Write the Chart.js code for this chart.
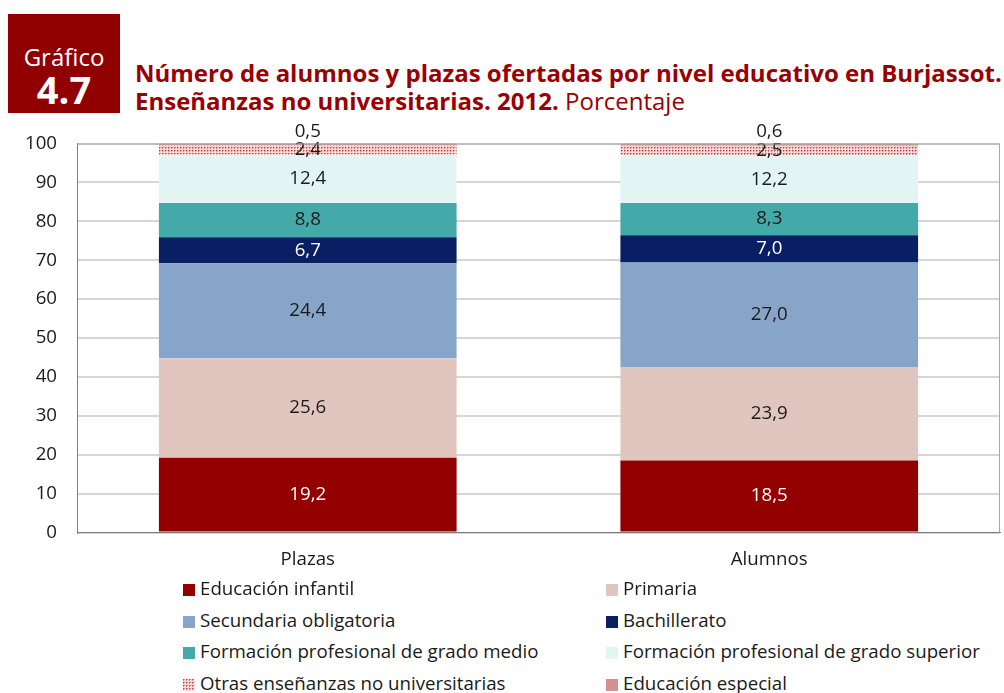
<!DOCTYPE html>
<html lang="es">
<head>
  <meta charset="UTF-8">
  <title>Gráfico 4.7 - Alumnos y plazas por nivel educativo</title>
  <script src="https://cdn.jsdelivr.net/npm/chart.js"></script>
  <style>
    body {
      margin: 0;
      width: 1004px;
      height: 693px;
      background: #ffffff;
      font-family: "Open Sans", sans-serif;
      position: relative;
      overflow: hidden;
    }
    #etiqueta {
      position: absolute;
      left: 8px;
      top: 14px;
      width: 112px;
      height: 99px;
      background: #900000;
      color: #ffffff;
      text-align: center;
    }
    #etiqueta .g {
      position: absolute;
      top: 29px;
      width: 100%;
      font-size: 24px;
      line-height: 28px;
    }
    #etiqueta .n {
      position: absolute;
      top: 54px;
      width: 100%;
      font-size: 38px;
      font-weight: bold;
      line-height: 42px;
    }
    #titulo {
      position: absolute;
      left: 135px;
      top: 59px;
      color: #990000;
      font-size: 24px;
      line-height: 28px;
      font-weight: bold;
      white-space: nowrap;
    }
    #titulo span { font-weight: normal; }
    #grafico {
      position: absolute;
      left: 0;
      top: 120px;
    }
    #leyenda {
      position: absolute;
      left: 0;
      top: 0;
    }
    .item {
      position: absolute;
      font-size: 18.7px;
      line-height: 22px;
      color: #1a1a1a;
      white-space: nowrap;
    }
    .item i {
      display: inline-block;
      width: 12px;
      height: 12px;
      margin-right: 5px;
      vertical-align: -1px;
    }
  </style>
</head>
<body>

<div id="etiqueta"><div class="g">Gráfico</div><div class="n">4.7</div></div>
<div id="titulo">Número de alumnos y plazas ofertadas por nivel educativo en Burjassot.<br>Enseñanzas no universitarias. 2012. <span>Porcentaje</span></div>

<canvas id="grafico" width="1004" height="471"></canvas>
<div id="leyenda"></div>

<script>
// categorías del eje X
const categorias = ['Plazas', 'Alumnos'];

// porcentajes por nivel educativo (Plazas, Alumnos)
const infantil = [19.2, 18.5];
const primaria = [25.6, 23.9];
const secundaria = [24.4, 27.0];
const bachillerato = [6.7, 7.0];
const fpMedio = [8.8, 8.3];
const fpSuperior = [12.4, 12.2];
const otras = [2.4, 2.5];
const especial = [0.5, 0.6];

const ticksY = [0, 10, 20, 30, 40, 50, 60, 70, 80, 90, 100];

// trama punteada para "Otras enseñanzas"
function crearTrama() {
  const c = document.createElement('canvas');
  c.width = 3; c.height = 3;
  const x = c.getContext('2d');
  x.fillStyle = '#f6dada';
  x.fillRect(0, 0, 3, 3);
  x.fillStyle = '#c83c3c';
  x.fillRect(0, 0, 1, 1);
  x.fillStyle = '#e08a8a';
  x.fillRect(1, 0, 1, 1);
  x.fillRect(0, 1, 1, 1);
  return c;
}
const tramaCanvas = crearTrama();
const trama = document.getElementById('grafico').getContext('2d').createPattern(tramaCanvas, 'repeat');

const series = [
  { label: 'Educación infantil', data: infantil, color: '#930000', texto: '#ffffff' },
  { label: 'Primaria', data: primaria, color: '#e0c6be', texto: '#1a1a1a' },
  { label: 'Secundaria obligatoria', data: secundaria, color: '#87a5c8', texto: '#1a1a1a' },
  { label: 'Bachillerato', data: bachillerato, color: '#0a1f63', texto: '#ffffff' },
  { label: 'Formación profesional de grado medio', data: fpMedio, color: '#44aaa9', texto: '#1a1a1a' },
  { label: 'Formación profesional de grado superior', data: fpSuperior, color: '#e3f4f4', texto: '#1a1a1a' },
  { label: 'Otras enseñanzas no universitarias', data: otras, color: trama, texto: '#1a1a1a' },
  { label: 'Educación especial', data: especial, color: '#d49090', texto: '#1a1a1a', fuera: true }
];

const fmt = v => v.toFixed(1).replace('.', ',');

// valores sobre cada tramo de la barra
const etiquetas = {
  id: 'etiquetas',
  afterDatasetsDraw(chart) {
    const ctx = chart.ctx;
    ctx.save();
    ctx.font = '18.7px "Open Sans"';
    ctx.textAlign = 'center';
    ctx.textBaseline = 'middle';
    chart.data.datasets.forEach((ds, i) => {
      const meta = chart.getDatasetMeta(i);
      meta.data.forEach((bar, j) => {
        const p = bar.getProps(['x', 'y', 'base'], true);
        const y = series[i].fuera ? p.y - 12 : (p.y + p.base) / 2;
        ctx.fillStyle = series[i].texto;
        ctx.fillText(fmt(ds.data[j]), p.x, y);
      });
    });
    ctx.restore();
  }
};

// marco gris alrededor del área del gráfico
const marco = {
  id: 'marco',
  afterDatasetsDraw(chart) {
    const a = chart.chartArea;
    const ctx = chart.ctx;
    ctx.save();
    ctx.strokeStyle = '#a8a8a8';
    ctx.lineWidth = 1;
    ctx.beginPath();
    ctx.moveTo(a.left, a.top + 0.5);
    ctx.lineTo(a.right - 0.5, a.top + 0.5);
    ctx.lineTo(a.right - 0.5, a.bottom);
    ctx.stroke();
    ctx.restore();
  }
};

new Chart(document.getElementById('grafico'), {
  type: 'bar',
  data: {
    labels: categorias,
    datasets: series.map(s => ({
      label: s.label,
      data: s.data,
      backgroundColor: s.color,
      borderWidth: 0,
      barPercentage: 0.645,
      categoryPercentage: 1
    }))
  },
  options: {
    responsive: false,
    animation: false,
    layout: { padding: { top: 23.5, right: 4, bottom: 12, left: 0 } },
    plugins: {
      legend: { display: false },
      tooltip: { enabled: false }
    },
    scales: {
      x: {
        stacked: true,
        grid: { display: false },
        border: { color: '#7a7a7a', width: 1 },
        ticks: { color: '#1a1a1a', font: { family: 'Open Sans', size: 18.7 }, padding: 8 }
      },
      y: {
        stacked: true,
        min: 0,
        max: 100,
        afterFit(scale) { scale.width = 77; },
        afterBuildTicks(scale) { scale.ticks = ticksY.map(v => ({ value: v })); },
        grid: { color: '#d6d6d6', lineWidth: 2, drawTicks: true, tickLength: 20, tickColor: 'rgba(0,0,0,0)' },
        border: { color: '#808080', width: 1 },
        ticks: { color: '#1a1a1a', font: { family: 'Open Sans', size: 18.7 }, padding: 0 }
      }
    }
  },
  plugins: [etiquetas, marco]
});

// leyenda en dos columnas
const leyenda = document.getElementById('leyenda');
const tramaUrl = tramaCanvas.toDataURL();
series.forEach((s, i) => {
  const d = document.createElement('div');
  d.className = 'item';
  d.style.left = (i % 2 === 0 ? 183 : 606) + 'px';
  d.style.top = (577 + Math.floor(i / 2) * 31.7) + 'px';
  const sw = document.createElement('i');
  if (typeof s.color === 'string') sw.style.background = s.color;
  else sw.style.backgroundImage = 'url(' + tramaUrl + ')';
  d.appendChild(sw);
  d.appendChild(document.createTextNode(s.label));
  leyenda.appendChild(d);
});
</script>

</body>
</html>
